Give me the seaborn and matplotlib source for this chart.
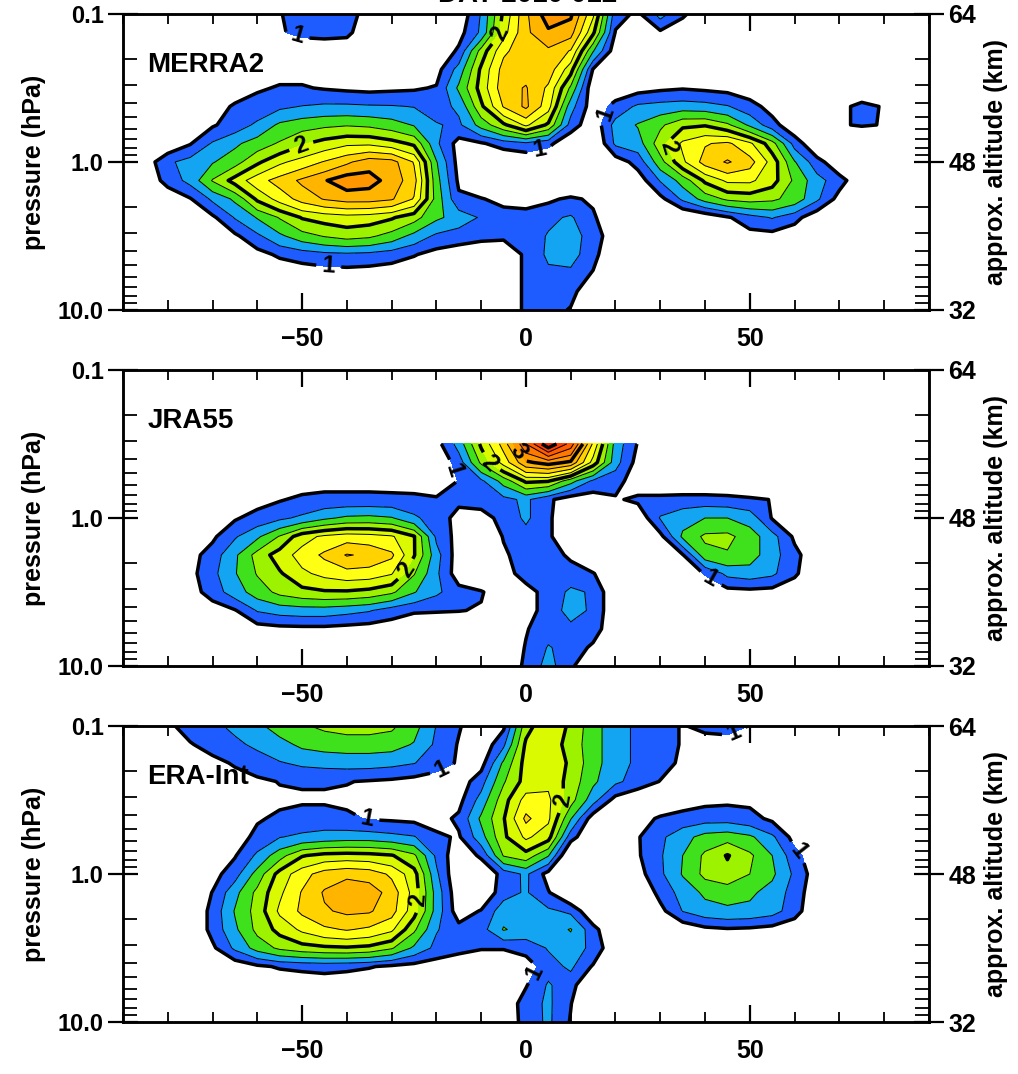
import numpy as np
import matplotlib
matplotlib.use("Agg")
import matplotlib.pyplot as plt
import seaborn as sns
from matplotlib.ticker import LogLocator, NullFormatter

# ---------------- data ----------------
lat = [-90, -85, -80, -75, -70, -65, -60, -55, -50, -45, -40, -35, -30, -25, -20, -15, -10, -5,
       0, 5, 10, 15, 20, 25, 30, 35, 40, 45, 50, 55, 60, 65, 70, 75, 80, 85, 90]
pressure = [0.1, 0.1334, 0.1778, 0.2371, 0.3162, 0.4217, 0.5623, 0.7499, 1.0,
            1.3335, 1.7783, 2.3714, 3.1623, 4.2170, 5.6234, 7.4989, 10.0]
jra_pressure = [0.3162, 0.4217, 0.5623, 0.7499, 1.0,
                1.3335, 1.7783, 2.3714, 3.1623, 4.2170, 5.6234, 7.4989, 10.0]

merra2 = [
    [0.3,0.3,0.4,0.5,0.6,0.7,0.8,0.98, 1.15,1.15,1.1,0.9,0.7,0.6,0.6,0.8, 1.27,2.05,2.7,3.15,3.05,2.3,1.1,0.95, 1.35,1.05,0.8,0.6,0.5,0.5,0.5,0.5, 0.5,0.5,0.5,0.5,0.5],
    [0.3,0.3,0.4,0.5,0.6,0.7,0.8,0.98, 1.05,1.07,1.05,0.85,0.7,0.65,0.7,0.9, 1.3,2.15,2.7,2.95,2.85,2.05,0.98,0.8, 0.95,0.8,0.7,0.6,0.55,0.5,0.5,0.5, 0.5,0.5,0.5,0.5,0.5],
    [0.3,0.35,0.45,0.55,0.65,0.72,0.78,0.82, 0.85,0.85,0.85,0.8,0.75,0.72,0.75,1.05, 1.85,2.45,2.65,2.7,2.48,1.52,0.85,0.7, 0.75,0.7,0.65,0.6,0.55,0.55,0.5,0.5, 0.5,0.5,0.5,0.5,0.5],
    [0.3,0.35,0.5,0.65,0.75,0.82,0.88,0.92, 0.92,0.9,0.88,0.86,0.85,0.82,0.9,1.35, 2.05,2.6,2.65,2.65,2.1,0.98,0.75,0.8, 0.85,0.85,0.8,0.75,0.7,0.65,0.6,0.6, 0.6,0.6,0.55,0.5,0.5],
    [0.3,0.4,0.6,0.75,0.85,0.92,0.97,1.02, 1.02,0.98,0.95,0.93,0.95,0.97,1.02,1.55, 2.1,2.65,2.77,2.45,1.7,0.8,0.85,0.9, 0.95,0.98,0.95,0.92,0.85,0.75,0.65,0.6, 0.65,0.7,0.65,0.5,0.4],
    [0.3,0.5,0.7,0.85,0.93,1.02,1.1,1.2, 1.26,1.3,1.3,1.28,1.27,1.24,1.15,1.3, 1.95,2.52,2.8,2.35,1.35,0.85,1.08,1.3, 1.35,1.38,1.35,1.27,1.1,0.9,0.75,0.7, 0.9,1.1,0.97,0.7,0.5],
    [0.35,0.55,0.75,0.88,0.97,1.12,1.3,1.55, 1.65,1.7,1.73,1.7,1.62,1.48,1.27,1.2, 1.6,1.95,2.3,1.95,1.15,0.8,1.35,1.52, 1.7,1.95,1.98,1.8,1.45,1.1,0.8,0.7, 0.98,1.02,0.99,0.7,0.5],
    [0.4,0.6,0.8,0.98,1.28,1.45,1.62,1.78, 1.97,2.1,2.2,2.2,2.1,1.95,1.3,0.9, 0.97,1.12,1.2,1.08,0.75,0.7,1.3,1.38, 1.9,2.3,2.48,2.55,2.3,1.85,1.15,0.75, 0.7,0.7,0.65,0.55,0.45],
    [0.45,0.85,1.2,1.35,1.48,1.65,1.95,2.2, 2.35,2.52,2.7,2.9,2.85,2.48,1.52,0.9, 0.7,0.7,0.75,0.7,0.6,0.6,0.85,1.1, 1.65,2.2,2.6,2.78,2.6,2.15,1.52,1.1, 0.8,0.65,0.55,0.5,0.45],
    [0.5,0.8,1.1,1.33,1.77,2.1,2.4,2.6, 2.8,2.98,3.15,3.1,2.9,2.6,1.6,0.95, 0.7,0.7,0.75,0.7,0.65,0.6,0.6,0.85, 1.27,1.6,2.05,2.3,2.3,2.1,1.7,1.35, 1.1,0.8,0.6,0.5,0.45],
    [0.5,0.6,0.8,0.98,1.3,1.55,2.05,2.35, 2.6,2.77,2.85,2.85,2.78,2.48,1.65,1.05, 1.02,0.9,0.85,0.95,1.05,0.95,0.6,0.6, 0.92,1.3,1.6,1.8,1.85,1.8,1.65,1.3, 0.9,0.65,0.55,0.5,0.45],
    [0.45,0.5,0.6,0.75,0.95,1.27,1.52,1.77, 2.02,2.1,2.15,2.12,2.03,1.85,1.55,1.4, 1.22,1.15,1.15,1.2,1.28,1.05,0.7,0.55, 0.6,0.7,0.8,0.97,1.15,1.27,1.1,0.8, 0.6,0.5,0.5,0.45,0.45],
    [0.4,0.45,0.55,0.65,0.8,0.95,1.2,1.45, 1.65,1.77,1.85,1.8,1.65,1.42,1.2,1.12, 1.07,1.05,1.12,1.27,1.35,1.15,0.8,0.6, 0.55,0.6,0.7,0.85,0.9,0.9,0.8,0.65, 0.55,0.5,0.45,0.45,0.4],
    [0.35,0.4,0.45,0.55,0.65,0.8,0.9,1.05, 1.12,1.18,1.2,1.18,1.12,1.02,0.9,0.85, 0.8,0.8,1.05,1.3,1.35,1.1,0.7,0.55, 0.5,0.5,0.55,0.6,0.65,0.6,0.55,0.5, 0.45,0.45,0.4,0.4,0.4],
    [0.3,0.35,0.4,0.45,0.5,0.6,0.7,0.78, 0.85,0.88,0.9,0.88,0.85,0.8,0.75,0.72, 0.72,0.8,1.05,1.2,1.2,0.98,0.7,0.55, 0.5,0.5,0.5,0.5,0.5,0.5,0.45,0.45, 0.4,0.4,0.4,0.4,0.4],
    [0.3,0.3,0.35,0.4,0.45,0.5,0.55,0.6, 0.65,0.7,0.72,0.7,0.68,0.65,0.65,0.68, 0.72,0.8,1.05,1.15,1.08,0.8,0.6,0.5, 0.5,0.45,0.45,0.45,0.45,0.45,0.45,0.4, 0.4,0.4,0.4,0.35,0.35],
    [0.3,0.3,0.3,0.35,0.4,0.45,0.5,0.55, 0.6,0.62,0.65,0.65,0.62,0.6,0.6,0.65, 0.7,0.8,1.05,1.1,0.98,0.75,0.55,0.5, 0.45,0.45,0.45,0.45,0.45,0.4,0.4,0.4, 0.4,0.35,0.35,0.35,0.35],
]

jra55 = [
    [0.3,0.35,0.4,0.45,0.5,0.55,0.6,0.65, 0.7,0.7,0.7,0.7,0.7,0.7,0.9,1.35, 2.05,2.6,3.5,4.2,3.65,2.45,1.4,0.98, 0.7,0.6,0.55,0.5,0.5,0.5,0.45,0.45, 0.4,0.4,0.35,0.35,0.3],
    [0.3,0.35,0.4,0.5,0.55,0.6,0.65,0.7, 0.75,0.75,0.75,0.75,0.75,0.7,0.75,1.12, 1.8,2.35,2.95,3.1,2.95,2.15,1.35,0.9, 0.7,0.65,0.6,0.55,0.55,0.5,0.5,0.45, 0.4,0.4,0.35,0.35,0.3],
    [0.3,0.35,0.45,0.55,0.65,0.72,0.8,0.85, 0.88,0.9,0.9,0.9,0.88,0.85,0.7,1.02, 1.2,1.6,2.05,2.02,1.6,1.2,1.1,0.85, 0.7,0.7,0.7,0.68,0.65,0.6,0.55,0.5, 0.45,0.4,0.35,0.35,0.3],
    [0.3,0.4,0.5,0.65,0.75,0.85,0.9,0.98, 1.05,1.08,1.08,1.08,1.08,1.08,1.06,1.05, 1.1,1.18,1.3,1.05,0.85,0.85,0.97,1.05, 1.1,1.12,1.12,1.1,1.05,0.99,0.85,0.7, 0.6,0.5,0.45,0.4,0.35],
    [0.3,0.4,0.55,0.7,0.85,0.97,1.1,1.2, 1.3,1.45,1.55,1.57,1.52,1.3,1.12,0.92, 0.9,1.08,1.3,1.05,0.75,0.7,0.75,0.8, 1.27,1.4,1.5,1.5,1.4,0.98,0.8,0.65, 0.55,0.5,0.45,0.4,0.35],
    [0.3,0.45,0.6,0.8,0.95,1.22,1.45,1.77, 2.15,2.3,2.38,2.35,2.28,2.02,1.2,0.9, 0.7,1.02,1.15,1.05,0.75,0.65,0.6,0.7, 0.92,1.55,1.8,1.82,1.62,1.35,0.95,0.7, 0.55,0.5,0.45,0.4,0.35],
    [0.35,0.5,0.7,0.9,1.12,1.45,1.85,2.12, 2.35,2.55,2.77,2.7,2.55,2.02,1.35,0.85, 0.75,0.95,1.15,1.12,0.95,0.65,0.6,0.6, 0.75,0.98,1.65,1.72,1.62,1.35,1.08,0.8, 0.6,0.5,0.45,0.4,0.35],
    [0.35,0.5,0.7,0.92,1.18,1.48,1.77,1.97, 2.2,2.32,2.4,2.38,2.27,1.77,1.3,0.85, 0.75,0.9,1.1,1.15,1.12,1.02,0.7,0.6, 0.6,0.75,1.02,1.32,1.38,1.3,1.05,0.75, 0.55,0.5,0.45,0.4,0.35],
    [0.3,0.45,0.65,0.88,1.12,1.38,1.62,1.82, 1.92,1.97,1.97,1.92,1.8,1.52,1.3,1.1, 1.02,0.85,0.9,1.1,1.3,1.22,0.75,0.6, 0.55,0.6,0.8,0.9,0.92,0.9,0.8,0.6, 0.5,0.45,0.4,0.35,0.3],
    [0.3,0.4,0.55,0.7,0.85,0.98,1.27,1.35, 1.38,1.38,1.33,1.27,1.12,1.03,1.02,1.01, 0.98,0.7,0.85,1.15,1.32,1.22,0.75,0.6, 0.5,0.5,0.55,0.6,0.6,0.55,0.5,0.45, 0.4,0.35,0.3,0.3,0.3],
    [0.3,0.35,0.45,0.55,0.65,0.78,0.88,0.92, 0.93,0.93,0.9,0.87,0.85,0.8,0.78,0.75, 0.72,0.7,0.98,1.15,1.2,1.12,0.8,0.6, 0.5,0.5,0.5,0.5,0.5,0.45,0.45,0.4, 0.4,0.35,0.35,0.3,0.3],
    [0.3,0.3,0.35,0.4,0.45,0.55,0.6,0.65, 0.7,0.7,0.7,0.68,0.65,0.62,0.6,0.62, 0.65,0.75,1.02,1.27,1.15,0.95,0.7,0.55, 0.5,0.45,0.45,0.45,0.45,0.4,0.4,0.4, 0.35,0.35,0.3,0.3,0.3],
    [0.3,0.3,0.3,0.35,0.4,0.45,0.5,0.55, 0.6,0.6,0.6,0.6,0.58,0.56,0.55,0.58, 0.65,0.8,1.05,1.35,1.05,0.75,0.6,0.5, 0.45,0.45,0.4,0.4,0.4,0.4,0.35,0.35, 0.35,0.3,0.3,0.3,0.3],
]

era_int = [
    [0.5,0.75,0.95,1.1,1.2,1.3,1.45,1.6, 1.72,1.8,1.85,1.85,1.8,1.6,1.24,1.02, 0.85,0.95,1.9,2.2,1.95,1.6,1.35,1.2, 1.1,0.98,1.08,1.12,0.99,0.8,0.65,0.6, 0.55,0.5,0.5,0.45,0.45],
    [0.45,0.6,0.8,0.98,1.1,1.2,1.3,1.42, 1.55,1.6,1.62,1.62,1.6,1.48,1.2,0.98, 0.8,1.2,2.05,2.15,1.9,1.6,1.35,1.2, 1.1,0.98,0.85,0.85,0.8,0.7,0.6,0.55, 0.5,0.5,0.45,0.45,0.4],
    [0.4,0.5,0.65,0.8,0.92,1.03,1.13,1.23, 1.3,1.33,1.35,1.35,1.32,1.26,1.12,0.97, 0.9,1.55,2.1,2.2,1.95,1.6,1.35,1.2, 1.1,0.95,0.8,0.75,0.7,0.65,0.6,0.55, 0.5,0.5,0.45,0.45,0.4],
    [0.35,0.45,0.55,0.7,0.8,0.88,0.95,1.01, 1.02,1.02,1.01,0.98,0.95,0.9,0.85,0.85, 1.15,1.72,2.1,2.2,1.9,1.55,1.3,1.15, 0.99,0.8,0.7,0.65,0.65,0.6,0.55,0.5, 0.5,0.45,0.45,0.4,0.4],
    [0.35,0.4,0.5,0.6,0.7,0.8,0.88,0.95, 0.97,0.97,0.95,0.92,0.88,0.85,0.8,0.92, 1.35,1.9,2.35,2.3,1.85,1.35,0.9,0.75, 0.7,0.85,0.93,0.95,0.95,0.9,0.8,0.6, 0.55,0.5,0.45,0.4,0.4],
    [0.35,0.45,0.55,0.68,0.8,0.9,0.97,1.05, 1.1,1.1,1.05,0.98,0.96,0.94,0.9,1.05, 1.55,1.98,2.56,2.3,1.52,0.85,0.7,0.85, 1.05,1.12,1.15,1.15,1.08,0.95,0.8,0.65, 0.55,0.5,0.45,0.4,0.4],
    [0.35,0.45,0.55,0.65,0.75,0.85,1.08,1.24, 1.3,1.35,1.38,1.38,1.33,1.27,1.05,0.97, 1.4,1.95,2.3,2.1,1.1,0.75,0.75,0.98, 1.2,1.4,1.6,1.65,1.55,1.3,0.9,0.65, 0.55,0.5,0.45,0.4,0.4],
    [0.35,0.45,0.55,0.7,0.9,0.98,1.3,1.65, 1.98,2.08,2.1,2.08,2.02,1.8,1.2,0.8, 1.05,1.77,1.9,1.52,0.65,0.6,0.7,0.97, 1.22,1.5,1.8,2.02,1.8,1.5,1.1,0.8, 0.6,0.5,0.45,0.4,0.4],
    [0.4,0.5,0.6,0.75,0.9,1.15,1.6,2.1, 2.4,2.62,2.7,2.65,2.45,2.1,1.3,0.75, 0.75,1.1,1.3,0.9,0.6,0.55,0.6,0.9, 1.2,1.52,1.82,1.92,1.75,1.55,1.2,0.85, 0.6,0.5,0.45,0.4,0.4],
    [0.4,0.5,0.6,0.75,1.01,1.42,1.82,2.2, 2.52,2.78,2.9,2.88,2.65,2.15,1.4,0.8, 0.75,1.15,1.28,1.02,0.7,0.55,0.55,0.75, 1.08,1.35,1.55,1.6,1.55,1.4,1.15,0.8, 0.6,0.5,0.45,0.4,0.4],
    [0.4,0.5,0.6,0.75,1.08,1.52,1.85,2.3, 2.55,2.72,2.8,2.78,2.6,2.1,1.4,0.85, 1.02,1.4,1.35,1.3,1.2,0.75,0.55,0.65, 0.92,1.26,1.4,1.45,1.43,1.35,1.12,0.75, 0.55,0.5,0.45,0.4,0.4],
    [0.4,0.5,0.6,0.75,1.08,1.45,1.82,2.08, 2.3,2.45,2.52,2.45,2.3,1.8,1.27,1.1, 1.15,1.52,1.4,1.35,1.52,1.1,0.7,0.55, 0.6,0.8,0.93,0.97,0.95,0.9,0.8,0.6, 0.5,0.45,0.45,0.4,0.4],
    [0.35,0.45,0.55,0.65,0.95,1.3,1.6,1.8, 1.9,1.95,1.97,1.93,1.78,1.45,1.18,1.08, 1.02,1.02,1.1,1.27,1.35,1.2,0.75,0.55, 0.55,0.6,0.65,0.7,0.7,0.65,0.6,0.55, 0.5,0.45,0.4,0.4,0.35],
    [0.35,0.4,0.5,0.6,0.7,0.82,0.95,1.03, 1.06,1.08,1.06,1.02,0.95,0.9,0.85,0.8, 0.75,0.75,0.85,1.15,1.3,0.97,0.6,0.5, 0.5,0.5,0.5,0.55,0.55,0.55,0.5,0.5, 0.45,0.45,0.4,0.4,0.35],
    [0.3,0.35,0.4,0.45,0.5,0.6,0.7,0.78, 0.82,0.85,0.82,0.78,0.75,0.72,0.7,0.68, 0.68,0.75,0.98,1.28,1.1,0.7,0.55,0.5, 0.5,0.5,0.5,0.5,0.5,0.5,0.45,0.45, 0.4,0.4,0.35,0.35,0.35],
    [0.3,0.3,0.35,0.4,0.45,0.5,0.55,0.6, 0.65,0.65,0.65,0.62,0.6,0.6,0.6,0.62, 0.65,0.8,1.12,1.3,1.01,0.7,0.55,0.5, 0.45,0.45,0.45,0.45,0.45,0.45,0.4,0.4, 0.4,0.35,0.35,0.35,0.3],
    [0.3,0.3,0.3,0.35,0.4,0.45,0.5,0.55, 0.55,0.58,0.58,0.58,0.55,0.55,0.55,0.58, 0.62,0.8,1.1,1.3,0.98,0.7,0.55,0.5, 0.45,0.45,0.4,0.4,0.4,0.4,0.4,0.35, 0.35,0.35,0.3,0.3,0.3],
]

fill_levels = [1.0, 1.25, 1.5, 1.75, 2.0, 2.25, 2.5, 2.75, 3.0, 3.25, 3.5, 3.75, 4.0, 4.25, 4.5]
thin_levels = [1.25, 1.5, 1.75, 2.25, 2.5, 2.75, 3.25, 3.5, 3.75, 4.25]
thick_levels = [1.0, 2.0, 3.0, 4.0]
band_hex = ["#1f5cff", "#13a4f2", "#3fe01c", "#9df200", "#d9fa00", "#ffff14", "#ffd200",
            "#ffb400", "#ff9600", "#ff7800", "#ff5c00", "#ff4000", "#ff2800", "#f01000"]

panel_names = ["MERRA2", "JRA55", "ERA-Int"]
y_tick_labels = ["0.1", "1.0", "10.0"]
alt_tick_labels = ["64", "48", "32"]
x_tick_values = [-50, 0, 50]

label_spots = [
    [(-51, 0.138), (-4.7, 0.143), (-50.7, 0.71), (15.8, 0.45), (3, 0.83), (33, 0.77), (-44, 4.8)],
    [(-17, 0.49), (-8, 0.42), (-1.8, 0.36), (-27, 2.2), (39, 3.4)],
    [(-19, 0.19), (8.5, 0.32), (-35.5, 0.42), (-25, 1.5), (62, 0.66), (47, 0.12), (2.5, 4.7)],
]

# ---------------- style ----------------
sns.set_theme(style="ticks")
plt.rcParams["font.family"] = ["Liberation Sans", "DejaVu Sans"]
plt.rcParams["font.weight"] = "bold"
plt.rcParams["text.color"] = "black"
plt.rcParams["axes.labelcolor"] = "black"
plt.rcParams["axes.edgecolor"] = "black"
plt.rcParams["axes.linewidth"] = 1.8
plt.rcParams["xtick.color"] = "black"
plt.rcParams["ytick.color"] = "black"
plt.rcParams["xtick.labelcolor"] = "black"
plt.rcParams["ytick.labelcolor"] = "black"

band_colors = sns.color_palette(band_hex)

fig = plt.figure(figsize=(10.18, 10.74), dpi=100)
fig.patch.set_facecolor("white")

panel_bottoms = [0.7114, 0.3799, 0.0484]
datasets = [(merra2, pressure), (jra55, jra_pressure), (era_int, pressure)]

for i, ((vals, plev), name) in enumerate(zip(datasets, panel_names)):
    ax = fig.add_axes([0.1208, panel_bottoms[i], 0.7917, 0.2756])
    ax.set_facecolor("white")
    ax.set_yscale("log")
    Z = np.array(vals, dtype=float)
    ax.contourf(lat, plev, Z, levels=fill_levels, colors=band_colors)
    ax.contour(lat, plev, Z, levels=thin_levels, colors="black", linewidths=0.7)
    thick = ax.contour(lat, plev, Z, levels=thick_levels, colors="black", linewidths=2.5)
    ax.set_xlim(-90, 90)
    ax.set_ylim(10, 0.1)

    ax.set_xticks(x_tick_values)
    ax.set_xticks(list(range(-90, 91, 10)), minor=True)
    ax.tick_params(axis="x", which="major", direction="in", length=12, width=1.6,
                   top=True, labelsize=18, pad=12)
    ax.tick_params(axis="x", which="minor", direction="in", length=7, width=1.3, top=True)
    ax.set_yticks([0.1, 1.0, 10.0])
    ax.set_yticklabels(y_tick_labels)
    ax.yaxis.set_minor_locator(LogLocator(base=10, subs=[2, 3, 4, 5, 6, 7, 8, 9]))
    ax.yaxis.set_minor_formatter(NullFormatter())
    ax.tick_params(axis="y", which="major", direction="inout", length=22, width=1.6,
                   labelsize=17, pad=3)
    ax.tick_params(axis="y", which="minor", direction="in", length=10, width=1.3)
    for lab in ax.get_xticklabels() + ax.get_yticklabels():
        lab.set_fontweight("bold")
    ax.set_ylabel("pressure (hPa)", fontsize=18, fontweight="bold", color="black")
    ax.yaxis.set_label_coords(-0.095, 0.5)

    ax2 = ax.twinx()
    ax2.set_yscale("log")
    ax2.set_ylim(10, 0.1)
    ax2.set_yticks([0.1, 1.0, 10.0])
    ax2.set_yticklabels(alt_tick_labels)
    ax2.yaxis.set_minor_locator(LogLocator(base=10, subs=[2, 3, 4, 5, 6, 7, 8, 9]))
    ax2.yaxis.set_minor_formatter(NullFormatter())
    ax2.tick_params(axis="y", which="major", direction="inout", length=22, width=1.6,
                    labelsize=18, pad=3)
    ax2.tick_params(axis="y", which="minor", direction="in", length=10, width=1.3)
    for lab in ax2.get_yticklabels():
        lab.set_fontweight("bold")
    ax2.set_ylabel("approx. altitude (km)", fontsize=18, fontweight="bold", color="black")
    ax2.yaxis.set_label_coords(1.068, 0.5)

    texts = ax.clabel(thick, fmt="%d", manual=label_spots[i], inline=True,
                      inline_spacing=6, fontsize=17)
    for t in texts:
        t.set_fontweight("bold")
        t.set_color("black")

    ax.text(-84.5, 0.22, name, fontsize=20, fontweight="bold", va="center", ha="left",
            color="black")

fig.text(0.518, 1 - 2.5 / 1074, "DAY 2010 012", ha="center", va="baseline",
         fontsize=20, fontweight="bold", color="black")

fig.savefig("out.png", dpi=100, facecolor="white")
